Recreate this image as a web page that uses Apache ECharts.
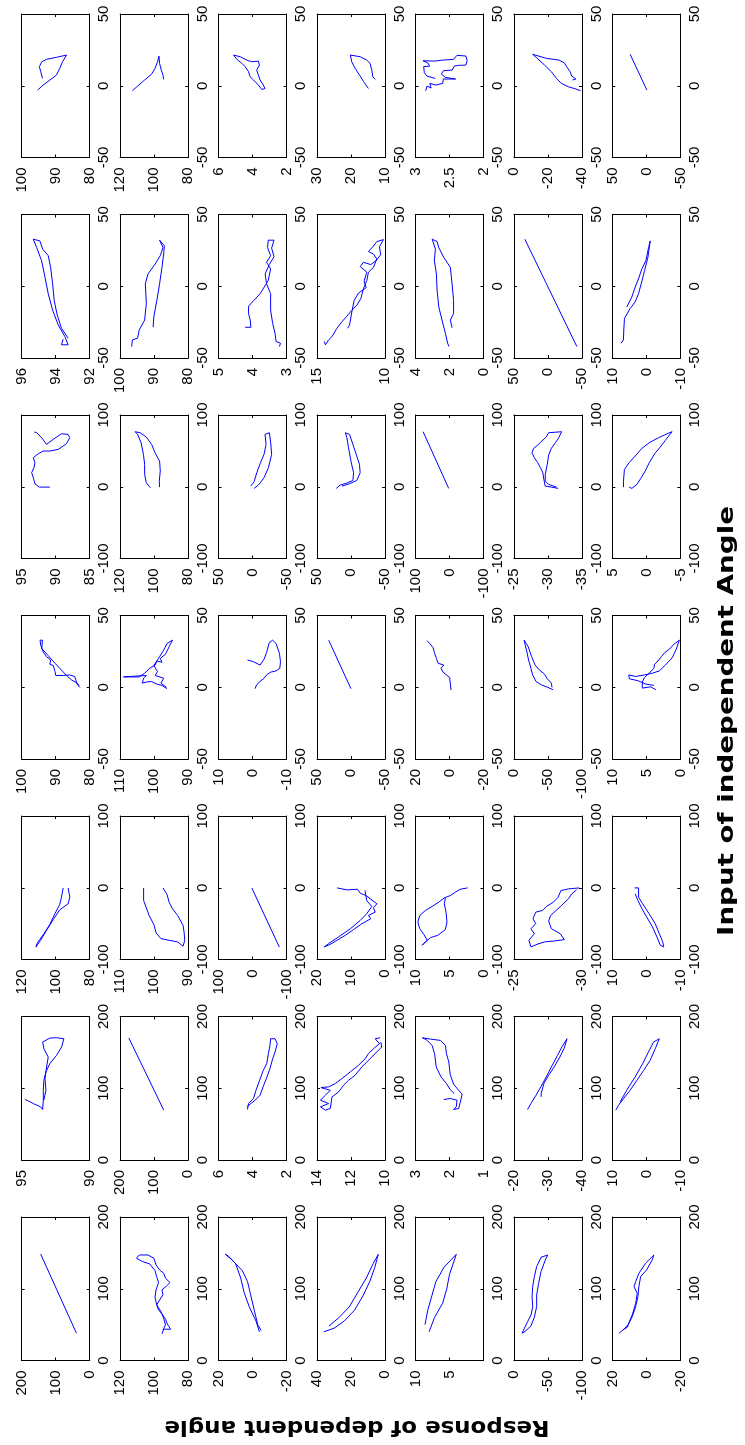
<!DOCTYPE html>
<html>
<head>
<meta charset="utf-8">
<script src="https://cdn.jsdelivr.net/npm/echarts@6/dist/echarts.min.js"></script>
<style>
html, body { margin: 0; padding: 0; background: #fff; }
#chart { width: 745px; height: 1445px; }
</style>
</head>
<body>
<div id="chart"></div>
<script>
// input angle axis (drawn vertically) for each row of panels: [min, max, step]
const inputAxes = [[-50, 50, 50], [-50, 50, 50], [-100, 100, 100], [-50, 50, 50],
                   [-100, 100, 100], [0, 200, 100], [0, 200, 100]];

// response axis (drawn horizontally, max on the left) for each panel: [min, max, step]
const respAxes = [
  [[80, 100, 10], [80, 120, 20], [2, 6, 2], [10, 30, 10], [2, 3, 0.5], [-40, 0, 20], [-50, 50, 50]],
  [[92, 96, 2], [80, 100, 10], [3, 5, 1], [10, 15, 5], [0, 4, 2], [-50, 50, 50], [-10, 10, 10]],
  [[85, 95, 5], [80, 120, 20], [-50, 50, 50], [-50, 50, 50], [-100, 100, 100], [-35, -25, 5], [-5, 5, 5]],
  [[80, 100, 10], [90, 110, 10], [-10, 10, 10], [-50, 50, 50], [-20, 20, 20], [-100, 0, 50], [0, 10, 5]],
  [[80, 120, 20], [90, 110, 10], [-100, 100, 100], [0, 20, 10], [0, 10, 5], [-30, -25, 5], [-10, 10, 10]],
  [[90, 95, 5], [0, 200, 100], [2, 6, 2], [10, 14, 2], [1, 3, 1], [-40, -20, 10], [-10, 10, 10]],
  [[0, 200, 100], [80, 120, 20], [-20, 20, 20], [0, 40, 20], [0, 10, 5], [-100, 0, 50], [-20, 20, 20]]
];
// panels whose lowest response tick carries no label
const hiddenMinLabel = [[6, 4]];

// curves, each point is [input angle, response angle]
const r0c0 = [[-3,95.3],[0.5,93.7],[4,91.7],[7.4,89.8],[12.1,88.8],[16.7,88],[21.4,86.8],[19.8,89.8],[18.4,92.7],[16.7,94.1],[13.3,94.8],[9.8,94.4],[5.1,93.9]];
const r0c1 = [[-3.5,112.8],[-0.2,109.7],[4,105.6],[8.1,101.5],[12.1,99.5],[16.7,98],[20.7,97.2],[19.8,96.4],[15.6,96.8],[10.9,95.8],[7.4,94.8],[4.4,94.4]];
const r0c2 = [[21.4,5.12],[20.2,4.73],[17.9,4.34],[16.7,4.05],[17.2,3.66],[14.4,3.6],[10.9,3.76],[7.4,3.66],[4,3.56],[0.5,3.37],[-1.9,3.27],[-2.6,3.46],[0.5,3.66],[4,3.95],[6.3,4.15],[9.8,4.24],[13.3,4.44],[15.6,4.63],[18.4,4.93],[21.4,5.12]];
const r0c3 = [[-1.9,14.9],[-2.6,15.4],[2.8,16.3],[7.4,17.5],[12.1,18.8],[16.7,19.8],[21.4,20.2],[20.2,17.3],[17.9,15.4],[15.6,14.4],[10.9,13.9],[6.3,13.6],[4.4,12.9]];
const r0c4 = [[-3.5,2.85],[-0.2,2.83],[-1.6,2.77],[1.6,2.79],[0.5,2.7],[1.6,2.6],[4.7,2.59],[4.7,2.41],[5.8,2.56],[8.1,2.62],[10.5,2.59],[10.9,2.46],[13.7,2.43],[14.2,2.37],[14.4,2.26],[17.4,2.24],[20.7,2.26],[21.2,2.39],[18.4,2.44],[17.9,2.59],[17.2,2.72],[17.4,2.89],[16,2.82],[13.7,2.79],[13.3,2.88],[9.1,2.87],[6.7,2.83],[5.1,2.71]];
const r0c5 = [[4,-34.4],[4.7,-36.4],[6.7,-34],[9.8,-33],[13.3,-31],[16,-29.6],[17.9,-26.4],[19.1,-19],[21.9,-11],[18.8,-14],[14.4,-18],[9.8,-22],[5.1,-25],[1.6,-28],[-0.7,-32],[-2.1,-36],[-3.5,-39.2]];
const r0c6 = [[-3,-0.7],[21.9,23.9]];

const r1c0 = [[-36.9,93.56],[-40.8,93.66],[-40.8,93.27],[-35.1,93.46],[-27,93.85],[-16.7,94.18],[-5.2,94.44],[6.3,94.63],[17.8,94.83],[27,95.12],[32.8,95.32],[31.6,94.93],[25.9,94.77],[21.3,94.44],[13.2,94.3],[1.7,94.18],[-9.8,94.09],[-20.1,93.91],[-29.3,93.66],[-36.2,93.27]];
const r1c1 = [[-42,96.6],[-37.4,96.4],[-36.2,94.9],[-30.5,94.4],[-23.6,92.8],[-12.1,92.3],[1.7,92.6],[8.6,91.8],[15.5,89.7],[21.3,88.2],[27,87.4],[32.1,88.4],[28.2,87],[22.4,87.2],[13.2,87.7],[1.7,88.4],[-9.8,89.2],[-21.3,90.1],[-28.6,90.3]];
const r1c2 = [[-28.6,4.22],[-28.6,4.05],[-23.6,4.07],[-19,4.12],[-13.9,4.12],[-9.8,3.96],[-5.2,3.78],[-0.6,3.66],[4,3.54],[12.1,3.47],[16.7,3.59],[21.3,3.47],[27,3.56],[32.1,3.54],[32.1,3.37],[26.6,3.44],[20.6,3.37],[15.1,3.51],[8.6,3.63],[1.7,3.59],[-5.2,3.47],[-16.7,3.47],[-25.9,3.41],[-32.8,3.34],[-38.5,3.31],[-39.7,3.18],[-42,3.21]];
const r1c3 = [[-38.5,14.46],[-40.8,14.39],[-37.4,14.15],[-35.1,13.9],[-29.3,13.54],[-24.7,13.17],[-20.8,12.8],[-16.7,12.44],[-13.2,12.07],[-8.6,11.78],[-1.7,11.59],[4,11.34],[9.8,11.22],[13.2,10.85],[19,10.61],[22.4,10.85],[24.2,11.22],[27.5,10.9],[31.1,10.61],[32.5,10.12],[27.5,10.41],[22,10.32],[17.8,10.66],[15.1,11.05],[16.7,11.59],[13.7,11.83],[9.8,11.34],[3.6,11.54],[-1,11.39],[-4.7,11.95],[-9.8,12.27],[-17.8,12.44],[-27,12.61],[-29.3,12.76]];
const r1c4 = [[-28.9,1.85],[-23.6,1.95],[-19,1.76],[-9.8,1.76],[1.7,1.85],[13.2,1.95],[20.1,2.34],[27,2.63],[31.1,2.73],[32.8,3.02],[25.9,2.83],[17.8,2.89],[8.6,2.77],[-2.9,2.73],[-14.4,2.63],[-23.6,2.44],[-32.8,2.24],[-39.7,2.11],[-42,2.03]];
const r1c5 = [[-42,-42.5],[32.8,34]];
const r1c6 = [[-39.7,7.44],[-37.4,6.75],[-30.5,6.65],[-22.4,6.45],[-15.5,4.78],[-10.9,3.3],[-5.2,2.32],[1.7,1.53],[10.9,0.54],[20.1,-0.44],[31.6,-1.13],[27,-0.64],[17.8,0.15],[12.1,1.33],[5.2,2.32],[-0.6,3.3],[-7.5,4.29],[-14.4,5.76]];

const r2c0 = [[-0.5,90.85],[-0.5,92.41],[4.2,93.05],[12.6,93.29],[19.5,93.54],[26.5,93.2],[33.5,93.05],[40.5,93.29],[46,92.56],[49.8,91.83],[49.8,90.85],[52.1,89.63],[60,88.41],[68.4,87.93],[73,88.17],[73.9,89.15],[66,90.37],[59.1,91.34],[68.4,92.07],[75.4,92.8],[76.3,93.15]];
const r2c1 = [[-1.4,102.2],[5.6,104.6],[17.2,105.6],[31.2,105.6],[45.1,106.3],[61.4,107.7],[73,109.7],[76.7,111.2],[75.3,108.3],[69.3,104.6],[59.1,101.5],[47.4,99.5],[35.8,96.8],[21.9,96.4],[7.9,97],[-0.5,96.8]];
const r2c2 = [[0.9,2.7],[7,-2.2],[19.5,-6.1],[32.1,-11],[45.1,-16.8],[59.1,-19.8],[73,-18.3],[75.3,-24.6],[61.4,-26.6],[45.1,-28],[26.5,-23.2],[12.6,-16.8],[2.3,-8.5],[-2.3,-2.2]];
const r2c3 = [[-2.3,21.7],[2.3,15.9],[5.1,6.1],[8.8,-2.7],[19.5,-3.7],[35.8,0.2],[54.4,3.7],[68.4,6.1],[75.3,8.5],[73,2.2],[59.1,-2.7],[45.1,-7.6],[31.2,-12.4],[19.5,-13.4],[8.8,-8.5],[4.2,2.2],[0.9,13.4]];
const r2c4 = [[-2.3,2.4],[76.7,77.6]];
const r2c5 = [[-2.3,-31.5],[-0.5,-30.5],[0.9,-29.6],[10.2,-29.4],[19.5,-29.25],[26.5,-28.9],[33.5,-28.5],[40.5,-28],[47.4,-27.65],[53.5,-27.9],[58.1,-28.5],[63.7,-29.1],[69.3,-29.75],[75.3,-30.1],[76.7,-32],[68.4,-31.6],[61.4,-31.1],[53.5,-30.5],[44.2,-30.1],[31.2,-29.9],[17.2,-29.6],[7.9,-29.6],[3.3,-30.1],[-0.5,-31.25]];
const r2c6 = [[-0.5,3.37],[7.9,3.37],[24.2,3.23],[33.5,2.54],[42.8,1.65],[53.5,0.67],[61.4,-0.42],[68.4,-1.8],[74.9,-3.28],[76.7,-3.77],[64.6,-2.78],[55.3,-2.04],[46,-1.21],[33.5,-0.42],[21.9,0.17],[12.6,0.76],[3.3,1.4],[-2.3,2.14],[-0.5,2.54]];

const r3c0 = [[-0.1,82.9],[2.2,83.7],[7.5,84.4],[8.6,85.9],[8.2,87.8],[8.2,90],[10.9,90.2],[15.1,90.7],[16,91.7],[19,91.5],[21.3,92.7],[24.7,93.7],[29.3,94.4],[32.8,94.6],[32.8,93.9],[27,94.1],[22,92.2],[16.7,90.2],[13.2,88.8],[8.2,86.8],[5.2,85.4],[2.9,83.7],[1.3,83.1]];
const r3c1 = [[-1,96.2],[1.3,97.7],[2.2,99.2],[4,100.8],[3.6,102.3],[2.9,103.5],[6.3,103.1],[8.2,102.3],[7.2,109],[7.2,104.4],[9.8,102.8],[13.2,101.3],[15.5,99.7],[18.3,99.2],[17.4,97.7],[20.1,98.2],[22.9,96.7],[28.2,95.6],[32.8,94.6],[30.5,96.2],[25.9,97.2],[21.3,98.4],[15.1,100.1],[10.9,99],[8.2,99.7],[6.3,97.2],[2.9,98],[-0.1,96.4]];
const r3c2 = [[-1,-0.7],[1.7,-1.2],[4,-2.2],[6.3,-3.4],[8.6,-4.1],[10.5,-5.3],[11.4,-6.9],[13.2,-8],[17.8,-8.2],[23.6,-7.9],[30.5,-6.9],[32.8,-5.9],[31.1,-4.9],[24.2,-4.1],[19.7,-3.4],[15.5,-2.2],[17.8,-0.2],[19,1.5]];
const r3c3 = [[-1,0.2],[32.8,32.9]];
const r3c4 = [[-1.9,-0.9],[2.2,-0.5],[6.8,-0.1],[8.6,1.8],[10.5,3.8],[13.2,5],[15.5,3.4],[16.7,6.7],[20.1,7.7],[24.2,8.9],[27.5,9.6],[30.5,11.6],[32.5,13.2]];
const r3c5 = [[-1.7,-57.5],[-0.1,-50],[1.7,-40],[4,-32.5],[8.6,-27.5],[13.2,-25],[19,-21.5],[24.7,-19],[30.5,-16],[32.8,-15],[28.2,-21],[21.3,-26],[15.5,-31],[12.1,-37.5],[9.1,-45],[5.9,-49],[2.9,-55],[-0.1,-56]];
const r3c6 = [[-1.7,3.6],[0.3,4.4],[-0.6,5.6],[3.6,5.6],[6.8,5.3],[9.8,4.6],[13.2,3.9],[16,3.8],[18.3,3.3],[21.3,2.8],[24.2,2.3],[26.6,1.6],[29.8,1],[32.8,0.15],[26.6,0.6],[20.6,1.2],[15.5,2.2],[11.4,3.1],[9.8,4.1],[8.6,5.3],[7.5,6.6],[8.6,7.6],[5.9,7.5],[4.5,6.2],[2.2,5.1],[1.3,3.9]];

const r4c0 = [[-0.2,92.7],[-13.2,91.7],[-22.4,92.7],[-30.7,97.6],[-44.6,101.5],[-59.4,105.4],[-73.2,108.9],[-82.5,111.6],[-76.9,110.8],[-64,106.9],[-51,103.4],[-36.3,100.5],[-23.3,97.6],[-13.2,96.6],[-0.2,95.6]];
const r4c1 = [[-0.2,103.1],[-17.8,103.1],[-28,102.3],[-38.6,101.5],[-51,100.1],[-63.1,99.4],[-70.9,98],[-73.2,95.6],[-75.5,93.1],[-81.5,91.5],[-73.2,91],[-61.7,91.2],[-52.4,91.5],[-38.6,93.1],[-29.3,94.6],[-20.1,95.6],[-9.5,96.2],[-0.2,97.4]];
const r4c2 = [[-0.2,2.4],[-82.5,-78.5]];
const r4c3 = [[-0.2,14.1],[-3,11.2],[-2.1,8.1],[-7.6,7.3],[-10.9,5.6],[-15.9,4.2],[-22.4,2.4],[-27.9,3.4],[-34,2.9],[-38.6,4.9],[-43.2,4.2],[-50.1,6.8],[-58.4,9.3],[-66.3,11.7],[-73.2,14.1],[-78.8,16.1],[-82.5,17.9],[-77.8,16.6],[-68.6,13.7],[-57.1,10.2],[-45.5,7.3],[-36.3,5.4],[-26.1,3.9],[-17.8,5.4],[-3.9,5.9]];
const r4c4 = [[-0.2,2.34],[-2.1,3.41],[-6.2,4.15],[-10.9,4.88],[-14.1,5.76],[-20.1,6.59],[-26.1,7.56],[-31.6,8.54],[-38.6,9.37],[-47.8,9.66],[-57.1,9.37],[-64.9,8.78],[-73.2,8.29],[-80.2,9.02],[-75.5,8.54],[-69.5,7.8],[-66.3,6.73],[-58.4,5.61],[-47.8,5.37],[-34,5.51],[-22.4,5.76],[-14.1,5.61]];
const r4c5 = [[-0.2,-29.8],[-1.6,-29],[-3.9,-28.45],[-13.2,-28.25],[-20.1,-27.9],[-26.1,-27.4],[-31.6,-27.1],[-34,-26.6],[-43.2,-26.4],[-50.1,-26.6],[-57.1,-26.25],[-64,-26.5],[-73.2,-26.1],[-82.5,-26.25],[-78.8,-26.7],[-75.5,-27.25],[-74.1,-28],[-72.3,-28.7],[-64,-28.4],[-57.1,-27.75],[-46.4,-27.55],[-38.6,-27.7],[-31.6,-28.1],[-24.7,-28.5],[-15.5,-29],[-8.5,-29.25],[-3,-29.6]];
const r4c6 = [[-0.2,3.5],[-0.2,2.3],[-13.2,2.3],[-22.4,1.1],[-36.3,-0.8],[-50.1,-2.6],[-64,-3.8],[-75.5,-4.8],[-82.5,-5.1],[-80.2,-4.1],[-68.6,-3.1],[-54.7,-1.8],[-40.9,-0.1],[-29.3,1.3],[-17.8,2.5],[-8.5,3.3]];

const r5c0 = [[84.3,94.76],[82.4,94.51],[78.7,94.15],[74.1,93.61],[70.4,93.46],[83.3,93.41],[97.2,93.41],[111.1,93.37],[122.7,93.22],[134.3,92.93],[145.8,92.44],[157.4,92.07],[169,91.9],[170.4,92.44],[169.9,92.93],[164.4,93.46],[155.1,93.37],[143.5,93.05],[129.6,93.17],[113.4,93.29],[97.2,93.22],[83.3,93.37]];
const r5c1 = [[69.5,71.8],[170,174.4]];
const r5c2 = [[70.4,4.3],[78.7,4.24],[85.7,3.95],[97.2,3.8],[110.2,3.6],[125,3.37],[134.3,3.17],[148.2,3.07],[159.7,2.98],[169,2.94],[169,2.68],[162.1,2.55],[151.9,2.66],[141.2,2.82],[127.3,2.98],[114.8,3.17],[102.8,3.37],[90.3,3.56],[83.3,3.85],[77.8,4.15],[74.1,4.34]];
const r5c3 = [[170.4,10.29],[169,10.58],[162.1,10.33],[155.1,10.68],[148.2,10.98],[141.2,11.17],[132,11.56],[122.7,12.05],[113.4,12.54],[106.5,12.93],[101.9,13.32],[100.9,13.77],[97.2,13.22],[90.3,13.51],[83.3,13.8],[78.7,13.32],[74.1,13.8],[69.5,13.51],[71.8,13.22],[88,13.12],[94.9,12.73],[104.2,12.44],[111.1,12.15],[118.1,11.76],[129.6,11.37],[136.6,11.07],[143.5,10.78],[150.5,10.49],[157.4,10.2],[164.4,10.25]];
const r5c4 = [[84.3,2.17],[85.7,1.98],[83.3,1.78],[74.1,1.8],[70.4,1.88],[71.8,1.73],[81,1.68],[91.7,1.63],[97.2,1.73],[105.6,1.88],[119.5,1.98],[136.6,2.02],[148.2,2.09],[159.7,2.12],[166.7,2.27],[168.5,2.56],[170.4,2.8],[167.6,2.68],[159.7,2.51],[148.2,2.44],[129.6,2.39],[115.8,2.25],[106.5,2.09],[98.2,1.98],[92.6,1.86]];
const r5c5 = [[70.4,-24],[78.7,-25],[90.3,-26.5],[102.8,-28],[115.8,-29.5],[129.6,-31],[145.8,-32.8],[158.3,-34.2],[169,-35.6],[156,-34.8],[143.5,-33.5],[129.6,-31.8],[118.1,-30.2],[106.5,-28.8],[92.6,-28],[88,-28]];
const r5c6 = [[69.5,9],[76.4,8.2],[85.7,6.7],[97.2,4.8],[111.1,2.8],[125,0.8],[138.9,-1.1],[155.1,-2.6],[169,-3.8],[164.4,-2.1],[150.5,-0.6],[134.3,1.1],[115.8,3.3],[97.2,5.8],[81,7.7]];

const r6c0 = [[38,39],[148.5,144.4]];
const r6c1 = [[37.1,95.4],[43.6,94.4],[43.6,90.3],[51,92.3],[57.5,93.3],[65,95.4],[70.5,97.4],[77.5,98.5],[84.4,96.8],[91.4,94.8],[98.4,95.4],[103.9,92.7],[108.6,90.7],[114.6,93.3],[121.6,94.4],[126.2,96.8],[133.2,98.9],[142.4,100.1],[147.1,103.6],[147.1,108.7],[142.4,110.4],[137.8,106.7],[134.6,102.6],[125.3,99.5],[116.9,98.5],[108.6,97.4],[98.4,98.9],[88.2,99.5],[77.5,98.5],[68.2,96],[58.9,94.4],[49.6,93.3],[42.7,94.8]];
const r6c2 = [[40,-4],[55,-2],[75,2],[95,5],[115,7],[135,10],[145,14],[148,16],[140,12],[125,6],[110,3],[90,1],[70,-1],[50,-3],[42,-5]];
const r6c3 = [[40,36],[45,30],[55,24],[70,18],[90,13],[110,9],[130,6],[148,4],[135,7],[115,11],[95,16],[75,21],[60,27],[48,33]];
const r6c4 = [[40,8],[60,7.2],[80,6],[100,5.4],[120,5],[148,4],[130,5.8],[110,7],[90,7.6],[70,8.2],[50,8.6]];
const r6c5 = [[38,-12],[45,-15.4],[54.3,-20.2],[63.6,-25.1],[75.2,-27.6],[89.1,-26.6],[103,-27.6],[116.9,-30],[130.8,-33.4],[143.8,-39.8],[147.1,-49.5],[140.1,-46.1],[123.9,-39.8],[107.6,-36.3],[91.4,-33.4],[75.2,-33.4],[60.3,-30],[48.3,-25.1],[41.8,-17.8],[38,-12.9]];
const r6c6 = [[38,16.1],[43.6,13.2],[46.4,11.2],[56.6,9.6],[63.6,8.3],[79.8,6.3],[93.7,5.4],[103,7.3],[110,6.3],[121.6,4.4],[135.5,0.5],[147.1,-4.4],[140.1,-3.4],[126.2,-0.1],[116.9,3.4],[103,4.4],[89.1,5],[75.2,6.3],[61.2,8.3],[49.6,10.8],[41.8,14.1]];

const curves = [
  [r0c0, r0c1, r0c2, r0c3, r0c4, r0c5, r0c6],
  [r1c0, r1c1, r1c2, r1c3, r1c4, r1c5, r1c6],
  [r2c0, r2c1, r2c2, r2c3, r2c4, r2c5, r2c6],
  [r3c0, r3c1, r3c2, r3c3, r3c4, r3c5, r3c6],
  [r4c0, r4c1, r4c2, r4c3, r4c4, r4c5, r4c6],
  [r5c0, r5c1, r5c2, r5c3, r5c4, r5c5, r5c6],
  [r6c0, r6c1, r6c2, r6c3, r6c4, r6c5, r6c6]
];

const xTitle = 'Input of independent Angle';
const yTitle = 'Response of dependent angle';

// panel geometry
const left0 = 21.7, colStep = 98.45, boxW = 68;
const top0 = 14, rowStep = 200.5, boxH = 143.5;

const grid = [], xAxis = [], yAxis = [], series = [];
const axisLine = { show: true, onZero: false, lineStyle: { color: '#000', width: 1 } };
const axisTick = { show: true, inside: true, length: 3, lineStyle: { color: '#000', width: 1 } };
const labelFont = { fontSize: 15, color: '#000', fontFamily: 'Liberation Sans, Arial, sans-serif' };

for (let r = 0; r < 7; r++) {
  for (let c = 0; c < 7; c++) {
    const k = grid.length;
    const [rMin, rMax, rStep] = respAxes[r][c];
    const [iMin, iMax, iStep] = inputAxes[r];
    const showMin = !hiddenMinLabel.some(p => p[0] === r && p[1] === c);
    grid.push({ left: left0 + c * colStep, top: top0 + r * rowStep, width: boxW, height: boxH });

    const resp = { gridIndex: k, type: 'value', min: rMin, max: rMax, interval: rStep, inverse: true,
                   axisLine: axisLine, axisTick: axisTick, splitLine: { show: false } };
    xAxis.push(Object.assign({}, resp, { position: 'bottom',
      axisLabel: Object.assign({ rotate: 90, margin: 10, showMinLabel: showMin, showMaxLabel: true }, labelFont) }));
    xAxis.push(Object.assign({}, resp, { position: 'top', axisLabel: { show: false } }));

    const inp = { gridIndex: k, type: 'value', min: iMin, max: iMax, interval: iStep,
                  axisLine: axisLine, axisTick: axisTick, splitLine: { show: false } };
    yAxis.push(Object.assign({}, inp, { position: 'right',
      axisLabel: Object.assign({ rotate: 90, margin: 7, showMinLabel: true, showMaxLabel: true }, labelFont) }));
    yAxis.push(Object.assign({}, inp, { position: 'left', axisLabel: { show: false } }));

    series.push({
      type: 'line',
      xAxisIndex: 2 * k,
      yAxisIndex: 2 * k,
      data: curves[r][c].map(p => [p[1], p[0]]),
      symbol: 'none',
      lineStyle: { color: '#0000ff', width: 1 },
      silent: true
    });
  }
}

const chart = echarts.init(document.getElementById('chart'));
chart.setOption({
  animation: false,
  backgroundColor: '#fff',
  grid: grid,
  xAxis: xAxis,
  yAxis: yAxis,
  series: series,
  graphic: [
    {
      type: 'text', x: 727, y: 721, rotation: Math.PI / 2, scaleX: 1.385, scaleY: 1.1,
      style: { text: xTitle, font: 'bold 20px "DejaVu Sans"', fill: '#000',
               textAlign: 'center', textVerticalAlign: 'middle' }
    },
    {
      type: 'text', x: 357, y: 1427, rotation: Math.PI, scaleX: 1.146, scaleY: 1.1,
      style: { text: yTitle, font: 'bold 20px "DejaVu Sans"', fill: '#000',
               textAlign: 'center', textVerticalAlign: 'middle' }
    }
  ]
});
</script>
</body>
</html>
